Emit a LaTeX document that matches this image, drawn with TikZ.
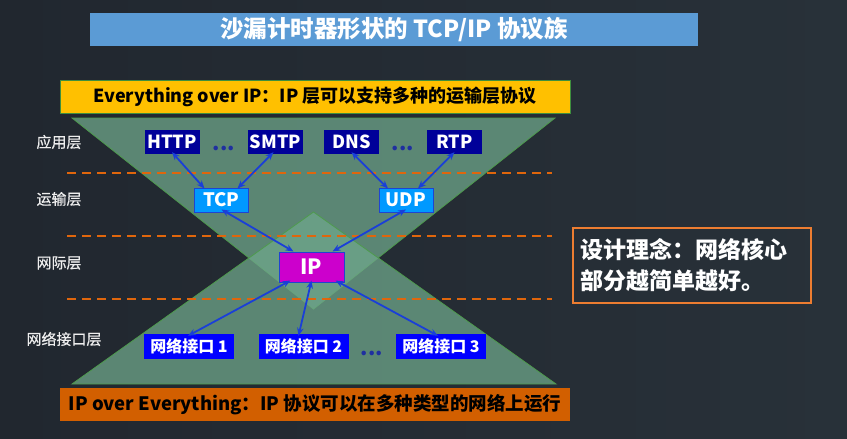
\documentclass[tikz,border=0pt]{standalone}
\usepackage{fontspec}
\setmainfont{Noto Sans CJK SC}
\newfontfamily\labelfont[FakeBold=0.6]{Noto Sans CJK SC}
\usetikzlibrary{arrows.meta}

\definecolor{bgleft}{HTML}{21272F}
\definecolor{bgright}{HTML}{283139}
\definecolor{titleblue}{HTML}{5B9BD5}
\definecolor{banneryellow}{HTML}{FFC000}
\definecolor{bannerorange}{HTML}{D25F00}
\definecolor{bannerline}{HTML}{3E8E3E}
\definecolor{trifill}{RGB}{111,167,139}
\definecolor{triline}{HTML}{4E9A4E}
\definecolor{dashorange}{HTML}{E0660C}
\definecolor{appblue}{HTML}{000099}
\definecolor{tpblue}{HTML}{0099FF}
\definecolor{ipmagenta}{HTML}{CC00CC}
\definecolor{ifblue}{HTML}{0000FF}
\definecolor{edgeblue}{HTML}{1F44D0}
\definecolor{linkblue}{HTML}{1A3FD8}
\definecolor{dotblue}{HTML}{1F2FA0}
\definecolor{labelgray}{HTML}{EEEEEE}
\definecolor{frameorange}{HTML}{ED7D31}

\tikzset{
  layerlabel/.style={text=labelgray, font=\labelfont\fontsize{15}{18}\selectfont, inner sep=0pt},
  appbox/.style={fill=appblue, text=white, font=\bfseries\fontsize{18}{20}\selectfont,
    minimum width=55pt, minimum height=24pt, inner sep=0pt},
  tpbox/.style={fill=tpblue, draw=edgeblue, line width=1pt, text=white,
    font=\bfseries\fontsize{18.5}{20}\selectfont,
    minimum width=54pt, minimum height=24pt, inner sep=0pt},
  ipbox/.style={fill=ipmagenta, draw=edgeblue, line width=1pt, text=white,
    font=\bfseries\fontsize{21}{24}\selectfont,
    minimum width=65pt, minimum height=30pt, inner sep=0pt},
  ifbox/.style={fill=ifblue, text=white, font=\bfseries\fontsize{16}{18}\selectfont,
    minimum width=90pt, minimum height=25pt, inner sep=0pt},
  moredots/.style={text=dotblue, font=\bfseries\fontsize{21}{22}\selectfont, inner sep=0pt},
  link/.style={draw=linkblue, line width=1.8pt,
    {Stealth[length=8pt,width=6.5pt]}-{Stealth[length=8pt,width=6.5pt]}},
  layerline/.style={draw=dashorange, line width=2pt, dash pattern=on 9pt off 6pt},
  hourglass/.style={fill=trifill, fill opacity=0.74, draw=triline, line width=0.8pt},
}

\begin{document}
\begin{tikzpicture}[x=1pt,y=-1pt]
\useasboundingbox (0,0) rectangle (847,439);
\shade[left color=bgleft, right color=bgright] (0,0) rectangle (847,439);

% title bar
\node[fill=titleblue, minimum width=608pt, minimum height=33pt, inner sep=0pt,
  text=white, font=\bfseries\fontsize{23.5}{26}\selectfont] (title) at (394,29.5)
  {沙漏计时器形状的 TCP/IP 协议族};

% the hourglass: two overlapping triangles
\path[hourglass] (72,118) -- (555,118) -- (313.5,309) -- cycle;
\path[hourglass] (72,384) -- (556,384) -- (313.5,212) -- cycle;

% top and bottom banners
\node[fill=banneryellow, draw=bannerline, line width=0.8pt,
  minimum width=510pt, minimum height=33pt, inner sep=0pt,
  font=\bfseries\fontsize{18}{20}\selectfont] (top) at (315,96.5)
  {Everything over IP：IP 层可以支持多种的运输层协议};
\node[fill=bannerorange, minimum width=510pt, minimum height=33pt, inner sep=0pt,
  font=\bfseries\fontsize{18.5}{20}\selectfont] (bottom) at (315,404.5)
  {IP over Everything：IP 协议可以在多种类型的网络上运行};

% layer separators
\coordinate (s1a) at (67,173);  \coordinate (s1b) at (552,173);
\coordinate (s2a) at (67,236);  \coordinate (s2b) at (552,236);
\coordinate (s3a) at (67,299);  \coordinate (s3b) at (552,299);
\draw[layerline] (s1a) -- (s1b);
\draw[layerline] (s2a) -- (s2b);
\draw[layerline] (s3a) -- (s3b);

% layer names
\node[layerlabel] (lapp) at (59,142) {应用层};
\node[layerlabel] (ltp)  at (59,199) {运输层};
\node[layerlabel] (lnet) at (59,263) {网际层};
\node[layerlabel] (llink) at (64,339) {网络接口层};

% application layer
\node[appbox] (http) at (172,142) {HTTP};
\node[moredots] (d1) at (224,148) {...};
\node[appbox] (smtp) at (275.5,142) {SMTP};
\node[appbox] (dns)  at (351.5,142) {DNS};
\node[moredots] (d2) at (403,148) {...};
\node[appbox] (rtp)  at (454.5,142) {RTP};

% transport layer
\node[tpbox] (tcp) at (221.5,200) {TCP};
\node[tpbox] (udp) at (406,200) {UDP};

% internet layer
\node[ipbox] (ip) at (311.5,267) {IP};

% network interface layer
\node[ifbox] (if1) at (189,346.5) {网络接口 1};
\node[ifbox] (if2) at (303.5,346.5) {网络接口 2};
\node[moredots] (d3) at (372,353) {...};
\node[ifbox] (if3) at (441,346.5) {网络接口 3};

% links between layers
\draw[link] ([yshift=2pt]http.south) -- ([xshift=-17pt,yshift=-1pt]tcp.north);
\draw[link] ([xshift=-2pt,yshift=2pt]smtp.south) -- ([xshift=16pt,yshift=-1pt]tcp.north);
\draw[link] ([yshift=2pt]dns.south) -- ([xshift=-18pt,yshift=-1pt]udp.north);
\draw[link] ([yshift=2pt]rtp.south) -- ([xshift=12pt,yshift=-1pt]udp.north);
\draw[link] ([yshift=3pt]tcp.south) -- ([xshift=-18pt]ip.north);
\draw[link] ([yshift=3pt]udp.south) -- ([xshift=21pt]ip.north);
\draw[link] ([xshift=-21pt,yshift=2pt]ip.south) -- ([xshift=-1pt,yshift=-2pt]if1.north);
\draw[link] ([yshift=2pt]ip.south) -- ([xshift=-5pt,yshift=-2pt]if2.north);
\draw[link] ([xshift=24pt,yshift=2pt]ip.south) -- ([xshift=-3pt,yshift=-2pt]if3.north);

% design note
\node[draw=frameorange, line width=1.5pt, minimum width=238pt, minimum height=75pt,
  text width=224pt, inner xsep=7pt, inner ysep=0pt, align=left, text=white,
  font=\bfseries\fontsize{23}{31}\selectfont] (idea) at (692,265.5)
  {设计理念：网络核心\\部分越简单越好。};
\end{tikzpicture}
\end{document}
